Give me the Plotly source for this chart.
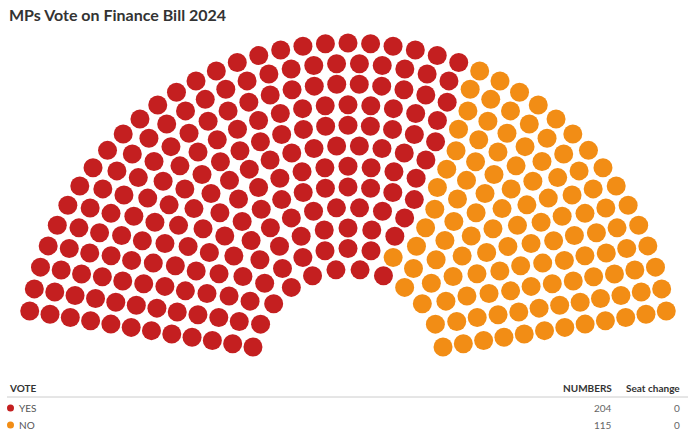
import numpy as np
import plotly.graph_objects as go

# ---- data ----
title = "MPs Vote on Finance Bill 2024"
parties = ["YES", "NO"]
seats = [204, 115]
seat_change = [0, 0]
colors = ["#c41f20", "#f28d15"]
header_labels = ["VOTE", "NUMBERS", "Seat change"]

# ---- parliament layout (computed) ----
W, H = 695, 436
n_rows = 12
inner = 0.30
total = sum(seats)
radii = np.linspace(inner, 1.0, n_rows)
raw = total * radii / radii.sum()
counts = np.floor(raw).astype(int)
rem = total - counts.sum()
order = np.argsort(-(raw - counts))
for i in order[:rem]:
    counts[i] += 1

a0 = 0.16
k = 0.0111
xs, ys, angs = [], [], []
for r, n in zip(radii, counts):
    a = a0 + k / r
    th = np.linspace(np.pi - a, a, n)
    xs.extend(r * np.cos(th))
    ys.extend(r * np.sin(th))
    angs.extend(th)
xs, ys, angs = np.array(xs), np.array(ys), np.array(angs)
idx = np.lexsort((-np.hypot(xs, ys), -angs))
xs, ys = xs[idx], ys[idx]

fig = go.Figure()
start = 0
for p, s, c in zip(parties, seats, colors):
    fig.add_trace(go.Scatter(
        x=xs[start:start + s], y=ys[start:start + s], mode="markers",
        marker=dict(size=19, color=c, line=dict(width=0)),
        name=p, hoverinfo="name", showlegend=False))
    start += s

scale = 323.0
cx, cy = 348.0, 366.0
fig.update_xaxes(range=[-cx / scale, (W - cx) / scale], visible=False, fixedrange=True)
fig.update_yaxes(range=[-(H - cy) / scale, cy / scale], visible=False, fixedrange=True)

FONT = "Lato"
def px(x):
    return x / W
def py(y):
    return 1 - y / H

ann = []
ann.append(dict(text="<b>" + title + "</b>", x=px(7), y=py(14), xanchor="left", yanchor="middle",
                font=dict(family=FONT, size=16, color="#333333")))
ann.append(dict(text="<b>" + header_labels[0] + "</b>", x=px(7), y=py(388), xanchor="left", yanchor="middle",
                font=dict(family=FONT, size=10, color="#333333")))
ann.append(dict(text="<b>" + header_labels[1] + "</b>", x=px(614), y=py(388), xanchor="right", yanchor="middle",
                font=dict(family=FONT, size=10, color="#333333")))
ann.append(dict(text="<b>" + header_labels[2] + "</b>", x=px(682), y=py(388), xanchor="right", yanchor="middle",
                font=dict(family=FONT, size=10, color="#333333")))
shapes = [dict(type="line", xref="paper", yref="paper", x0=px(7), x1=px(688), y0=py(397), y1=py(397),
               line=dict(color="#cccccc", width=1))]
for i, (p, s, ch, c) in enumerate(zip(parties, seats, seat_change, colors)):
    yy = 408 + 17 * i
    shapes.append(dict(type="circle", xref="paper", yref="paper", x0=px(7), x1=px(14),
                       y0=py(yy - 3.5), y1=py(yy + 3.5), fillcolor=c, line=dict(width=0)))
    ann.append(dict(text=p, x=px(17), y=py(yy), xanchor="left", yanchor="middle",
                    font=dict(family=FONT, size=10, color="#555555")))
    ann.append(dict(text=str(s), x=px(614), y=py(yy), xanchor="right", yanchor="middle",
                    font=dict(family=FONT, size=10, color="#666666")))
    ann.append(dict(text=str(ch), x=px(682), y=py(yy), xanchor="right", yanchor="middle",
                    font=dict(family=FONT, size=10, color="#666666")))
for a in ann:
    a.update(xref="paper", yref="paper", showarrow=False)

fig.update_layout(width=W, height=H, margin=dict(l=0, r=0, t=0, b=0),
                  paper_bgcolor="white", plot_bgcolor="white",
                  annotations=ann, shapes=shapes)
fig.write_html("out.html")
